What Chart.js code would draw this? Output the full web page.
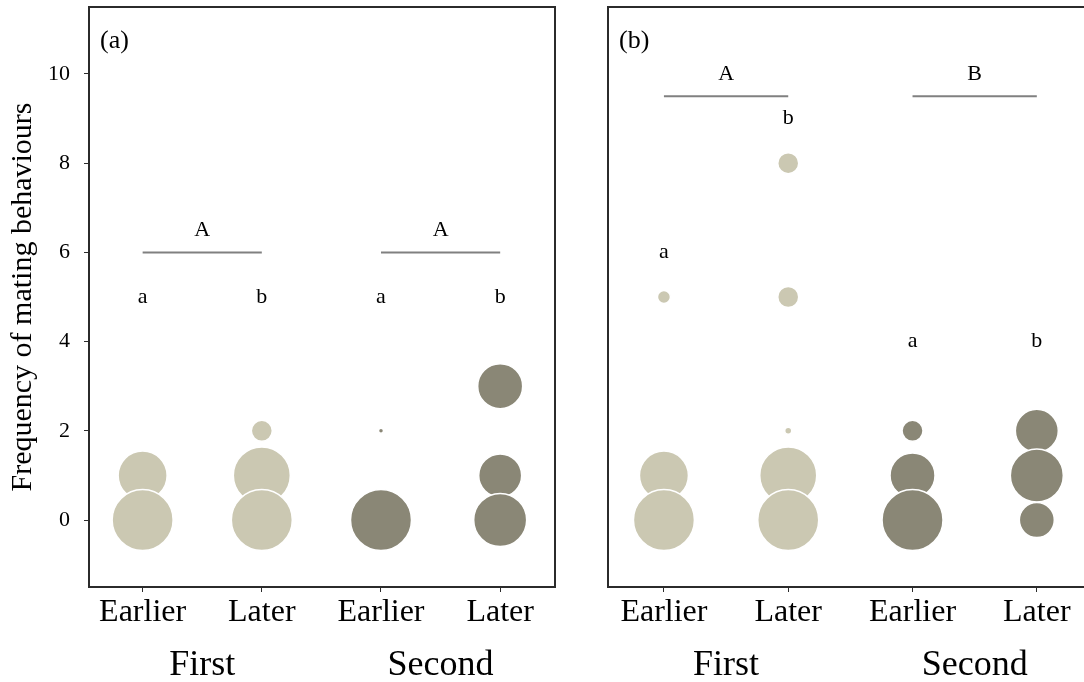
<!DOCTYPE html>
<html>
<head>
<meta charset="utf-8">
<script src="https://cdn.jsdelivr.net/npm/chart.js@4/dist/chart.umd.min.js"></script>
<style>
    html, body { margin: 0; padding: 0; background: #fff; overflow: hidden; }
    body { width: 1084px; height: 682px; position: relative; }
    canvas { position: absolute; top: 0; }
    #panelA { left: 0; }
    #panelB { left: 560px; }
</style>
</head>
<body>
<canvas id="panelA" width="560" height="682"></canvas>
<canvas id="panelB" width="540" height="682"></canvas>
<script>
// categories and tick labels
const categories = ['Earlier', 'Later', 'Earlier', 'Later'];
const groups = ['First', 'Second'];
const yTicks = [0, 2, 4, 6, 8, 10];

// panel (a): frequency values and number of individuals per bubble
const a1Freq = [1, 0],    a1Count = [12, 15];
const a2Freq = [2, 1, 0], a2Count = [5, 14, 15];
const a3Freq = [2, 0],    a3Count = [1, 15];
const a4Freq = [3, 1, 0], a4Count = [11, 10.5, 13];

// panel (b)
const b1Freq = [5, 1, 0],       b1Count = [3, 12, 15];
const b2Freq = [8, 5, 2, 1, 0], b2Count = [5, 5, 1.5, 14, 15];
const b3Freq = [2, 1, 0],       b3Count = [5, 11, 15];
const b4Freq = [2, 1, 0],       b4Count = [10.5, 13, 8.5];

// significance letters
const aLetters = ['a', 'b', 'a', 'b'], aLetterY = [5, 5, 5, 5];
const bLetters = ['a', 'b', 'a', 'b'], bLetterY = [6, 9, 4, 4];
const aBrackets = ['A', 'A'], aBracketY = 6;
const bBrackets = ['A', 'B'], bBracketY = 9.5;

const LIGHT = '#CBC8B2';
const DARK = '#8A8776';
const FONT = "'Liberation Serif', 'Times New Roman', serif";

function column(x, freq, count, color) {
    return {
        data: freq.map((y, i) => ({ x: x, y: y, r: count[i] * 2 + 0.5 })),
        backgroundColor: color,
        borderColor: '#ffffff',
        borderWidth: 1.5,
        hoverRadius: 0
    };
}

function makePanel(id, opts) {
    const annotate = {
        id: 'annotate',
        afterDraw(chart) {
            const c = chart.ctx;
            const xs = chart.scales.x, ys = chart.scales.y;
            const area = chart.chartArea;
            c.save();
            // bracket lines with group letters
            opts.brackets.forEach((lab, g) => {
                const x1 = xs.getPixelForValue(g * 2 + 1);
                const x2 = xs.getPixelForValue(g * 2 + 2);
                const y = ys.getPixelForValue(opts.bracketY);
                c.strokeStyle = '#808080';
                c.lineWidth = 2;
                c.beginPath();
                c.moveTo(x1, y);
                c.lineTo(x2, y);
                c.stroke();
                c.fillStyle = '#000';
                c.font = '22px ' + FONT;
                c.textAlign = 'center';
                c.textBaseline = 'middle';
                c.fillText(lab, (x1 + x2) / 2, ys.getPixelForValue(opts.bracketY + 0.5));
            });
            // letters above each column
            opts.letters.forEach((lab, i) => {
                c.fillStyle = '#000';
                c.font = '22px ' + FONT;
                c.textAlign = 'center';
                c.textBaseline = 'middle';
                c.fillText(lab, xs.getPixelForValue(i + 1), ys.getPixelForValue(opts.letterY[i]));
            });
            // group labels under the axis
            groups.forEach((g, k) => {
                c.font = '36px ' + FONT;
                c.textAlign = 'center';
                c.textBaseline = 'alphabetic';
                c.fillText(g, xs.getPixelForValue(k * 2 + 1.5), area.bottom + 88);
            });
            // panel tag
            c.font = '26px ' + FONT;
            c.textAlign = 'left';
            c.fillText(opts.tag, area.left + 11, area.top + 41);
            // frame
            c.strokeStyle = '#2b2b2b';
            c.lineWidth = 2;
            c.strokeRect(area.left, area.top, area.right - area.left, area.bottom - area.top);
            c.restore();
        }
    };

    return new Chart(document.getElementById(id), {
        type: 'bubble',
        data: { datasets: opts.datasets },
        options: {
            responsive: false,
            animation: false,
            events: [],
            layout: { autoPadding: false, padding: { top: 7, right: opts.padRight, left: 0, bottom: 0 } },
            plugins: { legend: { display: false }, tooltip: { enabled: false } },
            scales: {
                x: {
                    type: 'linear',
                    min: 0.55,
                    max: 4.46,
                    afterBuildTicks: s => { s.ticks = [1, 2, 3, 4].map(v => ({ value: v })); },
                    afterFit: s => { s.height = 95; },
                    grid: { drawOnChartArea: false, drawTicks: true, tickLength: 5, color: '#2b2b2b' },
                    border: { display: false },
                    ticks: {
                        autoSkip: false,
                        maxRotation: 0,
                        padding: 1,
                        color: '#000',
                        font: { family: FONT, size: 32 },
                        callback: v => categories[v - 1]
                    }
                },
                y: {
                    min: -1.5,
                    max: 11.5,
                    afterBuildTicks: s => { s.ticks = yTicks.map(v => ({ value: v })); },
                    afterFit: s => {
                        s.width = opts.yWidth;
                        s.paddingTop = 0;
                        s.paddingBottom = 0;
                    },
                    grid: { display: opts.showY, drawOnChartArea: false, drawTicks: true, tickLength: 5, color: '#2b2b2b' },
                    border: { display: false },
                    ticks: {
                        display: opts.showY,
                        padding: 14,
                        color: '#000',
                        font: { family: FONT, size: 22 }
                    },
                    title: {
                        display: opts.showY,
                        text: 'Frequency of mating behaviours',
                        color: '#000',
                        font: { family: FONT, size: 30 },
                        padding: { top: 5, bottom: 0 }
                    }
                }
            }
        },
        plugins: [annotate]
    });
}

makePanel('panelA', {
    tag: '(a)',
    yWidth: 89,
    padRight: 5,
    showY: true,
    datasets: [
        column(1, a1Freq, a1Count, LIGHT),
        column(2, a2Freq, a2Count, LIGHT),
        column(3, a3Freq, a3Count, DARK),
        column(4, a4Freq, a4Count, DARK)
    ],
    letters: aLetters, letterY: aLetterY,
    brackets: aBrackets, bracketY: aBracketY
});

makePanel('panelB', {
    tag: '(b)',
    yWidth: 48,
    padRight: 6,
    showY: false,
    datasets: [
        column(1, b1Freq, b1Count, LIGHT),
        column(2, b2Freq, b2Count, LIGHT),
        column(3, b3Freq, b3Count, DARK),
        column(4, b4Freq, b4Count, DARK)
    ],
    letters: bLetters, letterY: bLetterY,
    brackets: bBrackets, bracketY: bBracketY
});
</script>
</body>
</html>
